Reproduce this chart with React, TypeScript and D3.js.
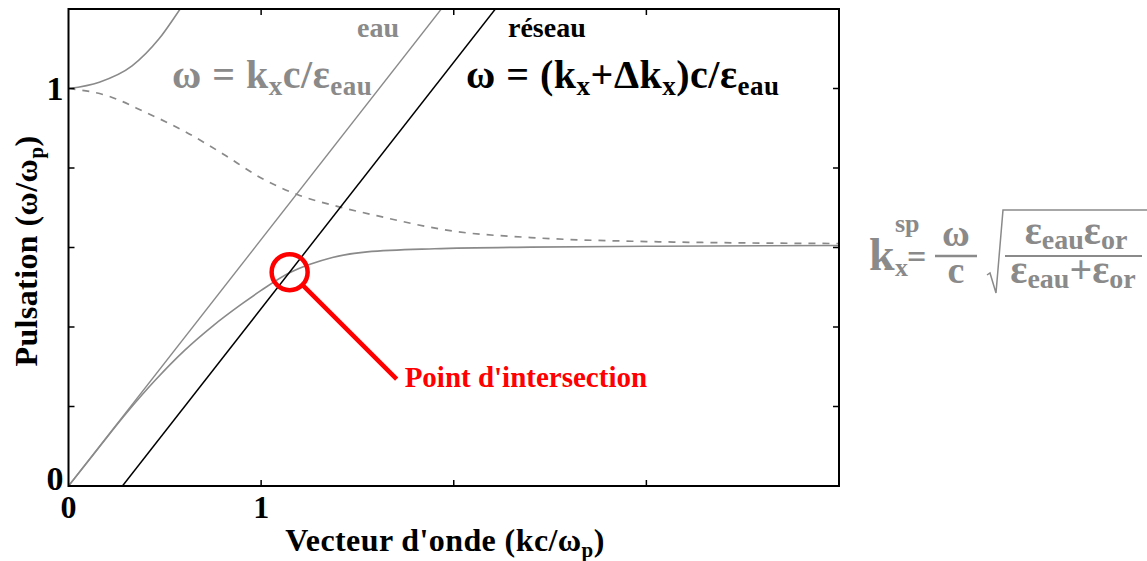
import { useEffect, useRef } from "react";
import * as d3 from "d3";

// courbes (k en kc/ωp, ω en ω/ωp)
const kSpp = [0, 0.15, 0.3, 0.45, 0.6, 0.75, 0.9, 1.0, 1.15, 1.25, 1.37, 1.55, 1.9, 2.4, 3.0, 4.0];
const wSpp = [0, 0.092, 0.183, 0.266, 0.34, 0.403, 0.458, 0.492, 0.537, 0.557, 0.575, 0.589, 0.597, 0.601, 0.603, 0.605];

const kUpper = [0, 0.16, 0.33, 0.47, 0.58, 0.65];
const wUpper = [1.0, 1.016, 1.057, 1.125, 1.2, 1.248];

const kDashed = [0, 0.2, 0.4, 0.6, 0.8, 1.0, 1.2, 1.4, 1.6, 2.0, 2.4, 3.0, 4.0];
const wDashed = [1.0, 0.982, 0.94, 0.893, 0.836, 0.775, 0.731, 0.703, 0.68, 0.641, 0.625, 0.615, 0.61];

const kEau = [0, 2.0];
const wEau = [0, 1.24];

const kReseau = [0.28, 2.3];
const wReseau = [0, 1.252];

const xTicks = [1, 2, 3];
const yTicks = [0.2, 0.4, 0.6, 0.8, 1.0];
const xTickLabels = [0, 1];
const yTickLabels = [0, 1];

const intersection = { k: 1.148, w: 0.538 };

const GREY = "#8a8a8a";
const FONT = "'Liberation Serif', 'DejaVu Serif', serif";

const App = () => {
    const svgRef = useRef<SVGSVGElement>(null);

    useEffect(() => {
        const left = 68.5, right = 839, top = 9, bottom = 486;

        const svg = d3.select(svgRef.current);
        svg.selectAll("*").remove();

        const x = d3.scaleLinear().domain([0, 4]).range([left, right]);
        const y = d3.scaleLinear().domain([0, 1.2]).range([bottom, top]);

        svg.append("defs").append("clipPath").attr("id", "plot")
            .append("rect").attr("x", left).attr("y", top)
            .attr("width", right - left).attr("height", bottom - top);

        const zip = (ks: number[], ws: number[]) => ks.map((k, i) => [k, ws[i]] as [number, number]);
        const curve = d3.line<[number, number]>().x((d) => x(d[0])).y((d) => y(d[1])).curve(d3.curveMonotoneX);
        const straight = d3.line<[number, number]>().x((d) => x(d[0])).y((d) => y(d[1]));

        const plot = svg.append("g").attr("clip-path", "url(#plot)");

        plot.append("path").attr("d", curve(zip(kDashed, wDashed)))
            .attr("fill", "none").attr("stroke", GREY).attr("stroke-width", 1.7).attr("stroke-dasharray", "7,7");
        plot.append("path").attr("d", curve(zip(kUpper, wUpper)))
            .attr("fill", "none").attr("stroke", GREY).attr("stroke-width", 1.6);
        plot.append("path").attr("d", curve(zip(kSpp, wSpp)))
            .attr("fill", "none").attr("stroke", GREY).attr("stroke-width", 1.6);
        plot.append("path").attr("d", straight(zip(kEau, wEau)))
            .attr("fill", "none").attr("stroke", GREY).attr("stroke-width", 1.4);
        plot.append("path").attr("d", straight(zip(kReseau, wReseau)))
            .attr("fill", "none").attr("stroke", "black").attr("stroke-width", 1.5);

        // cadre + graduations intérieures
        svg.append("rect").attr("x", left).attr("y", top)
            .attr("width", right - left).attr("height", bottom - top)
            .attr("fill", "none").attr("stroke", "black").attr("stroke-width", 2);

        const t = 6;
        const ticks = svg.append("g").attr("stroke", "black").attr("stroke-width", 1.5);
        xTicks.forEach((v) => {
            ticks.append("line").attr("x1", x(v)).attr("x2", x(v)).attr("y1", bottom).attr("y2", bottom - t);
            ticks.append("line").attr("x1", x(v)).attr("x2", x(v)).attr("y1", top).attr("y2", top + t);
        });
        yTicks.forEach((v) => {
            ticks.append("line").attr("x1", left).attr("x2", left + t).attr("y1", y(v)).attr("y2", y(v));
            ticks.append("line").attr("x1", right).attr("x2", right - t).attr("y1", y(v)).attr("y2", y(v));
        });

        const txt = svg.append("g").attr("font-family", FONT).attr("font-weight", "bold");

        xTickLabels.forEach((v) => {
            txt.append("text").attr("x", x(v)).attr("y", 518).attr("text-anchor", "middle")
                .attr("font-size", 32).text(String(v));
        });
        yTickLabels.forEach((v) => {
            txt.append("text").attr("x", left - 5).attr("y", y(v) + (v === 0 ? 4 : 11))
                .attr("text-anchor", "end").attr("font-size", 34).text(String(v));
        });

        // titres des axes
        const xt = txt.append("text").attr("x", 445).attr("y", 551).attr("text-anchor", "middle")
            .attr("font-size", 32).attr("letter-spacing", 0.4);
        xt.append("tspan").text("Vecteur d'onde (kc/ω");
        xt.append("tspan").attr("font-size", 21).attr("dy", 6).text("p");
        xt.append("tspan").attr("dy", -6).text(")");

        const yt = txt.append("text").attr("transform", "translate(37,251) rotate(-90)")
            .attr("text-anchor", "middle").attr("font-size", 32).attr("letter-spacing", 0.4);
        yt.append("tspan").text("Pulsation (ω/ω");
        yt.append("tspan").attr("font-size", 21).attr("dy", 6).text("p");
        yt.append("tspan").attr("dy", -6).text(")");

        // étiquettes des droites
        txt.append("text").attr("x", 357).attr("y", 37).attr("font-size", 28).attr("fill", GREY).text("eau");
        txt.append("text").attr("x", 508).attr("y", 37).attr("font-size", 28).attr("fill", "black").text("réseau");

        const e1 = txt.append("text").attr("x", 172).attr("y", 88).attr("font-size", 40)
            .attr("letter-spacing", 0.5).attr("fill", GREY);
        e1.append("tspan").text("ω = k");
        e1.append("tspan").attr("font-size", 27).attr("dy", 7).text("x");
        e1.append("tspan").attr("dy", -7).text("c/ε");
        e1.append("tspan").attr("font-size", 27).attr("dy", 7).text("eau");

        const e2 = txt.append("text").attr("x", 466).attr("y", 88).attr("font-size", 40)
            .attr("letter-spacing", 0.5).attr("fill", "black");
        e2.append("tspan").text("ω = (k");
        e2.append("tspan").attr("font-size", 27).attr("dy", 7).text("x");
        e2.append("tspan").attr("dy", -7).text("+Δk");
        e2.append("tspan").attr("font-size", 27).attr("dy", 7).text("x");
        e2.append("tspan").attr("dy", -7).text(")c/ε");
        e2.append("tspan").attr("font-size", 27).attr("dy", 7).text("eau");

        // formule du plasmon de surface
        const f = txt.append("g").attr("fill", GREY);
        f.append("text").attr("x", 869).attr("y", 270).attr("font-size", 46).text("k");
        f.append("text").attr("x", 895).attr("y", 232).attr("font-size", 26).text("sp");
        f.append("text").attr("x", 895).attr("y", 276).attr("font-size", 26).text("x");
        f.append("text").attr("x", 907).attr("y", 268).attr("font-size", 34).text("=");
        f.append("text").attr("x", 956).attr("y", 246).attr("text-anchor", "middle").attr("font-size", 38).text("ω");
        f.append("text").attr("x", 956).attr("y", 283).attr("text-anchor", "middle").attr("font-size", 38).text("c");
        f.append("line").attr("x1", 935).attr("x2", 977).attr("y1", 256).attr("y2", 256)
            .attr("stroke", GREY).attr("stroke-width", 2.5);
        f.append("path").attr("d", "M987,275 L990,273 L996,293 L1003,210 L1147,210")
            .attr("fill", "none").attr("stroke", GREY).attr("stroke-width", 1.5);
        const num = f.append("text").attr("x", 1076).attr("y", 244).attr("text-anchor", "middle").attr("font-size", 40);
        num.append("tspan").text("ε");
        num.append("tspan").attr("font-size", 28).attr("dy", 5).text("eau");
        num.append("tspan").attr("dy", -5).text("ε");
        num.append("tspan").attr("font-size", 28).attr("dy", 5).text("or");
        f.append("line").attr("x1", 1005).attr("x2", 1142).attr("y1", 256).attr("y2", 256)
            .attr("stroke", GREY).attr("stroke-width", 2);
        const den = f.append("text").attr("x", 1073).attr("y", 283).attr("text-anchor", "middle").attr("font-size", 40);
        den.append("tspan").text("ε");
        den.append("tspan").attr("font-size", 28).attr("dy", 5).text("eau");
        den.append("tspan").attr("dy", -5).text("+ε");
        den.append("tspan").attr("font-size", 28).attr("dy", 5).text("or");

        // point d'intersection
        const cx = x(intersection.k), cy = y(intersection.w);
        svg.append("circle").attr("cx", cx).attr("cy", cy).attr("r", 18)
            .attr("fill", "none").attr("stroke", "red").attr("stroke-width", 4.5);
        svg.append("line").attr("x1", cx + 13).attr("y1", cy + 13).attr("x2", cx + 107).attr("y2", cy + 107)
            .attr("stroke", "red").attr("stroke-width", 4.5);
        txt.append("text").attr("x", cx + 115).attr("y", cy + 115).attr("font-size", 29).attr("fill", "red")
            .text("Point d'intersection");
    }, []);

    return (
        <svg ref={svgRef} width={1147} height={561}
            style={{ position: "absolute", left: 0, top: 0, background: "white" }} />
    );
};

export default App;
